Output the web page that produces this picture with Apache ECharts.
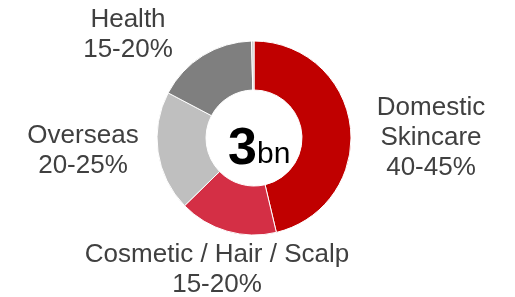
<!DOCTYPE html>
<html>
<head>
<meta charset="utf-8">
<script src="https://cdn.jsdelivr.net/npm/echarts@6/dist/echarts.min.js"></script>
<style>
  html, body { margin: 0; padding: 0; background: #fff; }
  #chart { width: 515px; height: 297px; }
</style>
</head>
<body>
<div id="chart"></div>
<script>
const segments = ["Domestic\nSkincare", "Cosmetic / Hair / Scalp", "Overseas", "Health", ""];
const shares = [46.3, 16.4, 20.0, 16.9, 0.4];
const ranges = ["40-45%", "15-20%", "20-25%", "15-20%", ""];
const colors = ["#c00000", "#d42f45", "#bfbfbf", "#7f7f7f", "#c8c8c8"];
const totalValue = "3";
const totalUnit = "bn";

// where each label sits (centre of text block)
const labelPos = [
  [431, 138],
  [217, 270],
  [83, 151],
  [128, 35],
  [0, -100],
];

const myChart = echarts.init(document.getElementById("chart"));

myChart.setOption({
  backgroundColor: "#fff",
  animation: false,
  graphic: [
    {
      type: "text",
      x: 257,
      y: 150,
      style: {
        text: totalValue,
        align: "right",
        verticalAlign: "middle",
        fontFamily: "Liberation Sans",
        fontWeight: "bold",
        fontSize: 52,
        fill: "#000",
      },
    },
    {
      type: "text",
      x: 257,
      y: 155,
      style: {
        text: totalUnit,
        align: "left",
        verticalAlign: "middle",
        fontFamily: "Liberation Sans",
        fontSize: 30,
        fill: "#000",
      },
    },
  ],
  series: [
    {
      type: "pie",
      center: [254, 138],
      radius: [48, 97],
      startAngle: 90,
      clockwise: true,
      itemStyle: { borderColor: "#fff", borderWidth: 1 },
      label: {
        show: true,
        formatter: (p) => (p.name ? p.name + "\n" + ranges[p.dataIndex] : ""),
        fontFamily: "Liberation Sans",
        fontSize: 26,
        lineHeight: 30,
        color: "#404040",
        align: "center",
        overflow: "none",
        width: 320,
      },
      labelLine: { show: false },
      labelLayout: (params) => ({
        x: labelPos[params.dataIndex][0],
        y: labelPos[params.dataIndex][1],
        align: "center",
        verticalAlign: "middle",
      }),
      emphasis: { disabled: true },
      data: shares.map((v, i) => ({
        name: segments[i],
        value: v,
        itemStyle: { color: colors[i] },
      })),
    },
  ],
});
</script>
</body>
</html>
